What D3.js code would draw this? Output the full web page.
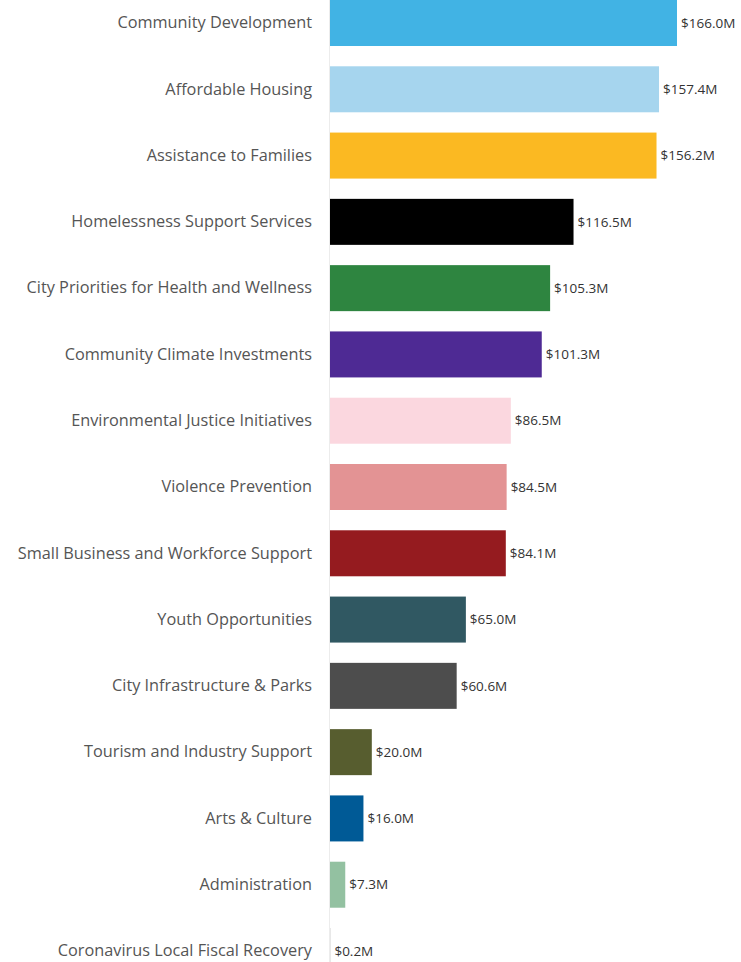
<!DOCTYPE html>
<html>
<head>
<meta charset="utf-8">
<script src="https://cdn.jsdelivr.net/npm/d3@7"></script>
<style>
  body { margin: 0; background: #fff; }
  svg text { font-family: "Open Sans", "Noto Sans", sans-serif; }
</style>
</head>
<body>
<div id="chart"></div>
<script>
// Data
const categories = [
  "Community Development",
  "Affordable Housing",
  "Assistance to Families",
  "Homelessness Support Services",
  "City Priorities for Health and Wellness",
  "Community Climate Investments",
  "Environmental Justice Initiatives",
  "Violence Prevention",
  "Small Business and Workforce Support",
  "Youth Opportunities",
  "City Infrastructure & Parks",
  "Tourism and Industry Support",
  "Arts & Culture",
  "Administration",
  "Coronavirus Local Fiscal Recovery"
];
const amounts = [166.0, 157.4, 156.2, 116.5, 105.3, 101.3, 86.5, 84.5, 84.1, 65.0, 60.6, 20.0, 16.0, 7.3, 0.2];
const colors = [
  "#41b3e4", "#a6d5ee", "#fbb922", "#000000", "#2e8540",
  "#4e2a94", "#fbd7df", "#e39394", "#951b1f", "#305862",
  "#4d4d4d", "#575d2f", "#005a96", "#93c1a1", "#c7c7c7"
];

const dataset = categories.map((c, i) => ({ name: c, value: amounts[i], color: colors[i] }));

// Dimensions
let dimensions = {
  width: 741,
  height: 962,
  left: 330,
  top: 0,
};
dimensions.ctrWidth = 347;
dimensions.ctrHeight = 974;

const svg = d3
  .select("#chart")
  .append("svg")
  .attr("width", dimensions.width)
  .attr("height", dimensions.height);

const ctr = svg
  .append("g")
  .attr("transform", `translate(${dimensions.left}, ${dimensions.top})`);

// Scales
const xScale = d3
  .scaleLinear()
  .domain([0, 166])
  .range([0, dimensions.ctrWidth]);

const yScale = d3
  .scaleBand()
  .domain(categories)
  .range([0, dimensions.ctrHeight])
  .paddingInner(0.306)
  .paddingOuter(0);

// axis line
ctr
  .append("line")
  .attr("x1", -0.5)
  .attr("x2", -0.5)
  .attr("y1", 0)
  .attr("y2", dimensions.height)
  .attr("stroke", "#ececec");

// bars
ctr
  .selectAll("rect.bar")
  .data(dataset)
  .join("rect")
  .attr("class", "bar")
  .attr("x", 0)
  .attr("y", (d) => yScale(d.name))
  .attr("width", (d) => xScale(d.value))
  .attr("height", yScale.bandwidth())
  .attr("fill", (d) => d.color);

// category labels
const yAxis = d3.axisLeft(yScale).tickSize(0).tickPadding(18);
const gYAxis = ctr.append("g").call(yAxis);
gYAxis.select(".domain").remove();
gYAxis
  .selectAll(".tick text")
  .style("font-family", '"Open Sans", "Noto Sans", sans-serif')
  .style("font-size", "16.3px")
  .style("fill", "#555555");

// value labels
ctr
  .selectAll("text.value")
  .data(dataset)
  .join("text")
  .attr("class", "value")
  .attr("x", (d) => xScale(d.value) + 4)
  .attr("y", (d) => yScale(d.name) + yScale.bandwidth() / 2)
  .attr("dy", "0.35em")
  .style("font-size", "13.5px")
  .style("fill", "#333333")
  .text((d) => `$${d.value.toFixed(1)}M`);
</script>
</body>
</html>
